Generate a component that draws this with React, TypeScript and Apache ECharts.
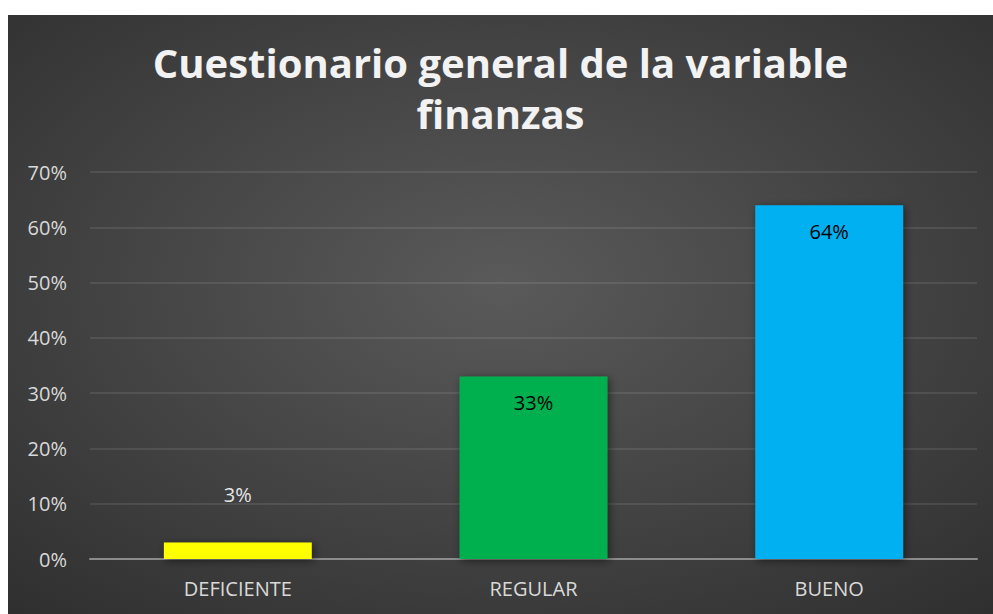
import React, { useEffect, useRef } from "react";
import * as echarts from "echarts";

const categories = ["DEFICIENTE", "REGULAR", "BUENO"];
const values = [3, 33, 64];
const barColors = ["#ffff00", "#00b050", "#00b0f0"];
const yTicks = { min: 0, max: 70, interval: 10 };
const titleText = "Cuestionario general de la variable\nfinanzas";

export default function App() {
  const ref = useRef<HTMLDivElement>(null);
  useEffect(() => {
    if (!ref.current) return;
    const chart = echarts.init(ref.current, undefined, { renderer: "svg" });
    chart.setOption({
      animation: false,
      backgroundColor: {
        type: "radial",
        x: 0.5,
        y: 0.45,
        r: 0.9,
        colorStops: [
          { offset: 0, color: "#5a5a5a" },
          { offset: 1, color: "#262626" },
        ],
      },
      title: {
        text: titleText,
        left: "center",
        top: 17,
        textStyle: {
          color: "#f2f2f2",
          fontFamily: "Open Sans",
          fontWeight: "bold",
          fontSize: 40,
          lineHeight: 51,
        },
      },
      grid: { left: 82, right: 16, top: 157, bottom: 55 },
      xAxis: {
        type: "category",
        data: categories,
        axisLine: { lineStyle: { color: "#8c8c8c", width: 2 } },
        axisTick: { show: false },
        axisLabel: {
          color: "#d9d9d9",
          fontFamily: "Open Sans",
          fontSize: 20,
          margin: 19,
        },
      },
      yAxis: {
        type: "value",
        min: yTicks.min,
        max: yTicks.max,
        interval: yTicks.interval,
        axisLine: { show: false },
        axisTick: { show: false },
        splitLine: { lineStyle: { color: "rgba(255,255,255,0.12)", width: 1.5 } },
        axisLabel: {
          formatter: "{value}%",
          color: "#d9d9d9",
          fontFamily: "Open Sans",
          fontSize: 20,
          margin: 23,
        },
      },
      series: [
        {
          type: "bar",
          barWidth: "50%",
          data: values.map((v, i) => ({
            value: v,
            itemStyle: {
              color: barColors[i],
              shadowColor: "rgba(0,0,0,0.5)",
              shadowBlur: 8,
              shadowOffsetX: 2,
              shadowOffsetY: 2,
            },
            label:
              v < 10
                ? { position: "top", distance: 38, color: "#e6e6e6" }
                : { position: "insideTop", distance: 16, color: "#000000" },
          })),
          label: {
            show: true,
            formatter: "{c}%",
            fontFamily: "Open Sans",
            fontSize: 20,
          },
        },
      ],
    });
    return () => chart.dispose();
  }, []);
  return (
    <div
      ref={ref}
      style={{ position: "absolute", left: 8, top: 15, width: 985, height: 599 }}
    />
  );
}
